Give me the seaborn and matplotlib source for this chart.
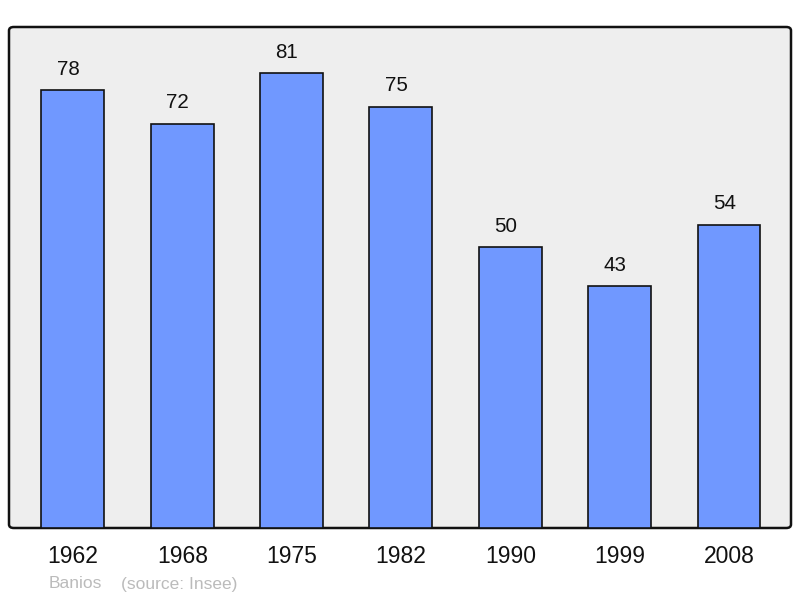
import matplotlib
matplotlib.use("Agg")
import matplotlib.pyplot as plt
import seaborn as sns
import pandas as pd
from matplotlib.patches import FancyBboxPatch

years = ["1962", "1968", "1975", "1982", "1990", "1999", "2008"]
population = [78, 72, 81, 75, 50, 43, 54]
commune = "Banios"
source = "(source: Insee)"

sns.set_theme(style="white")
plt.rcParams['font.family'] = ['Liberation Sans', 'DejaVu Sans']

df = pd.DataFrame({"year": years, "pop": population})

fig = plt.figure(figsize=(8, 5.98), dpi=100)
ax = fig.add_axes([9/800, 70/598, 782/800, 501/598])
ax.set_facecolor('none')

# rounded background frame
frame = FancyBboxPatch((9/800, 70/598), 782/800, 501/598,
                       boxstyle="round,pad=0,rounding_size=0.006",
                       transform=fig.transFigure, facecolor='#eeeeee',
                       edgecolor='#111111', linewidth=1.8, zorder=-5)
fig.patches.append(frame)

sns.barplot(data=df, x="year", y="pop", ax=ax, color='#7098ff',
            saturation=1, width=0.576, edgecolor='#111111', linewidth=1.2)

for i, v in enumerate(population):
    ax.annotate(str(v), (i, v), xytext=(-3.5, 8.2), textcoords='offset points',
                ha='center', va='bottom', fontsize=14.8, color='#111111')

ax.set_xlim(-0.585, 6.567)
ax.set_ylim(0, 89.2)
ax.set_yticks([])
ax.set_xlabel("")
ax.set_ylabel("")
ax.tick_params(axis='x', length=0, labelsize=16.5, pad=12.5, colors='#111111')
for s in ax.spines.values():
    s.set_visible(False)

fig.text(49/800, 1 - 584/598, commune, fontsize=12.5, color='#bbbbbb', va='center', ha='left')
fig.text(121/800, 1 - 584/598, source, fontsize=12.5, color='#bbbbbb', va='center', ha='left')

fig.savefig("out.png", dpi=100)
